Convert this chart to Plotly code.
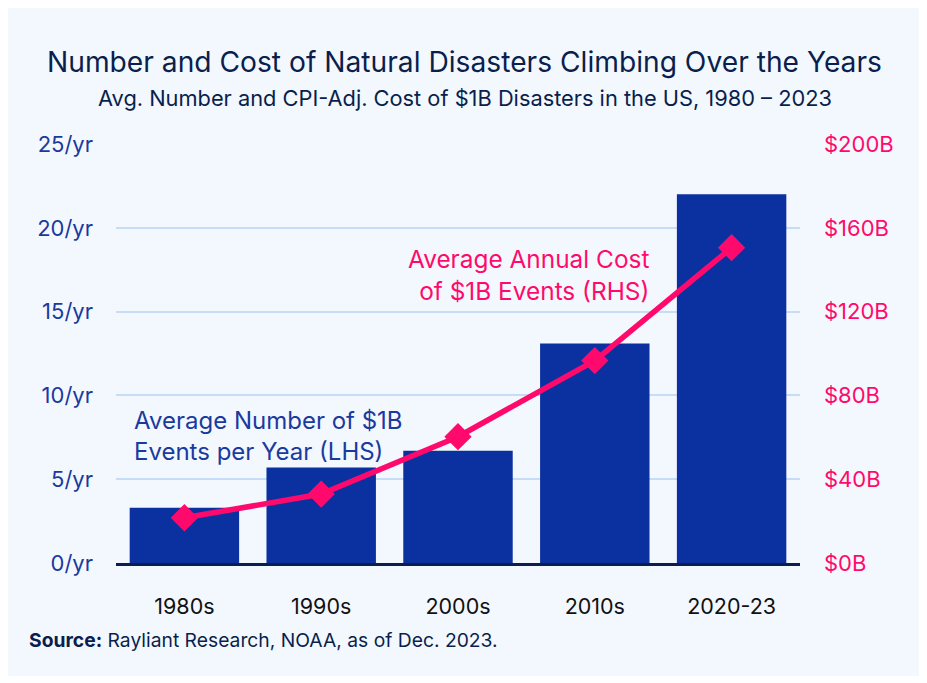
import plotly.graph_objects as go

categories = ["1980s", "1990s", "2000s", "2010s", "2020-23"]
avg_events = [3.3, 5.7, 6.7, 13.1, 22.0]
avg_cost_b = [21.6, 32.9, 60.3, 96.6, 150.5]
left_ticks = [0, 5, 10, 15, 20, 25]
right_ticks = [0, 40, 80, 120, 160, 200]

# page coordinates (browser body has an 8px margin)
OFF = 8
PANEL_R, PANEL_B = 920, 676
L, R, T, B = 116, 800, 144, 563
FONT = "Inter"
NAVY = "#0a1f4d"
BAR = "#0b31a0"
BLUE_TXT = "#1a3a9e"
PINK = "#ff0a6c"
PANEL = "#f3f8fe"

def px(x):
    return (x - L) / (R - L)

def py(y):
    return (B - y) / (B - T)

fig = go.Figure()
fig.add_trace(go.Bar(x=categories, y=avg_events, marker=dict(color=BAR, line=dict(width=0)),
                     yaxis="y", showlegend=False, hoverinfo="skip"))
fig.add_trace(go.Scatter(x=categories, y=avg_cost_b, mode="lines+markers", yaxis="y2",
                         line=dict(color=PINK, width=5.5),
                         marker=dict(symbol="diamond", size=21, color=PINK),
                         showlegend=False, hoverinfo="skip"))

fig.update_layout(
    width=PANEL_R - OFF, height=PANEL_B - OFF,
    margin=dict(l=L - OFF, r=PANEL_R - R, t=T - OFF, b=PANEL_B - B, pad=0),
    paper_bgcolor=PANEL, plot_bgcolor="rgba(0,0,0,0)",
    bargap=0.2,
    font=dict(family=FONT, color=NAVY),
    xaxis=dict(showline=True, linecolor=NAVY, linewidth=2.5, showgrid=False, ticks="",
               tickfont=dict(size=21.5, color="#111111"), ticklabelstandoff=22),
    yaxis=dict(range=[0, 25], tickmode="array", tickvals=left_ticks,
               ticktext=[f"{v}/yr" for v in left_ticks], showgrid=True,
               gridcolor="#c6dcf7", gridwidth=1.5, zeroline=False, ticks="",
               tickfont=dict(size=22, color=BLUE_TXT), ticklabelstandoff=22),
    yaxis2=dict(range=[0, 200], tickmode="array", tickvals=right_ticks,
                ticktext=[f"${v}B" for v in right_ticks],
                overlaying="y", side="right", showgrid=False, zeroline=False, ticks="",
                tickfont=dict(size=22, color=PINK), ticklabelstandoff=23),
    annotations=[
        dict(text="Number and Cost of Natural Disasters Climbing Over the Years",
             xref="paper", yref="paper", x=px(464), y=py(62), xanchor="center", yanchor="middle",
             showarrow=False, font=dict(size=28.2, color=NAVY)),
        dict(text="Avg. Number and CPI-Adj. Cost of $1B Disasters in the US, 1980 – 2023",
             xref="paper", yref="paper", x=px(465), y=py(98), xanchor="center", yanchor="middle",
             showarrow=False, font=dict(size=21.8, color=NAVY)),
        dict(text="Average Number of $1B<br>Events per Year (LHS)",
             xref="paper", yref="paper", x=px(132), y=py(436), xanchor="left", yanchor="middle",
             align="left", showarrow=False, font=dict(size=24, color=BLUE_TXT)),
        dict(text="Average Annual Cost<br>of $1B Events (RHS)",
             xref="paper", yref="paper", x=px(651), y=py(275), xanchor="right", yanchor="middle",
             align="right", showarrow=False, font=dict(size=24.4, color=PINK)),
        dict(text="<b>Source:</b> Rayliant Research, NOAA, as of Dec. 2023.",
             xref="paper", yref="paper", x=px(27), y=py(640), xanchor="left", yanchor="middle",
             showarrow=False, font=dict(size=19.3, color=NAVY)),
    ],
)

fig.write_html("out.html")
